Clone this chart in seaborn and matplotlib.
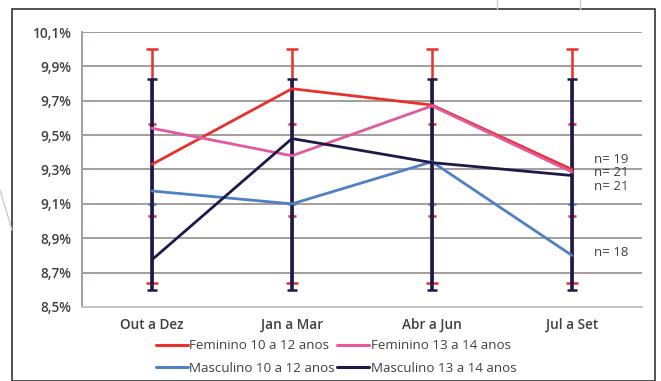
import matplotlib
matplotlib.use("Agg")
import matplotlib.pyplot as plt
import seaborn as sns
import pandas as pd
from matplotlib.ticker import FuncFormatter, FixedLocator
from matplotlib.lines import Line2D
from matplotlib.patches import Rectangle

categories = ["Out a Dez", "Jan a Mar", "Abr a Jun", "Jul a Set"]
series_names = ["Feminino 10 a 12 anos", "Feminino 13 a 14 anos",
                "Masculino 10 a 12 anos", "Masculino 13 a 14 anos"]
fem_10_12 = [9.33, 9.77, 9.675, 9.30]
fem_13_14 = [9.54, 9.38, 9.67, 9.285]
masc_10_12 = [9.175, 9.10, 9.345, 8.80]
masc_13_14 = [8.775, 9.48, 9.34, 9.265]
# error bar ranges (low, high) per series
err_fem_10_12 = (8.64, 10.0)
err_fem_13_14 = (9.03, 9.565)
err_masc_10_12 = (9.10, 9.34)
err_masc_13_14 = (8.60, 9.825)
n_labels = ["n= 19", "n= 21", "n= 21", "n= 18"]
n_label_y = [9.36, 9.28, 9.20, 8.82]
colors = ["#e8312b", "#e25a9e", "#5080c4", "#1c1a48"]

values = [fem_10_12, fem_13_14, masc_10_12, masc_13_14]
errs = [err_fem_10_12, err_fem_13_14, err_masc_10_12, err_masc_13_14]

rows = []
for name, vals in zip(series_names, values):
    for i, (c, v) in enumerate(zip(categories, vals)):
        rows.append({"periodo": c, "x": i, "serie": name, "valor": v})
df = pd.DataFrame(rows)

sns.set_style("white")
plt.rcParams["font.family"] = ["Open Sans", "DejaVu Sans"]

fig = plt.figure(figsize=(6.61, 3.81), dpi=100)
ax = fig.add_axes([82/661, 1-307/381, (642-82)/661, (307-32)/381])

ax.set_ylim(8.5, 10.1)
ax.set_xlim(-0.5, 3.5)
yt = [8.5, 8.7, 8.9, 9.1, 9.3, 9.5, 9.7, 9.9, 10.1]
ax.yaxis.set_major_locator(FixedLocator(yt))
ax.yaxis.set_major_formatter(FuncFormatter(lambda v, p: f"{v:.1f}%".replace(".", ",")))
ax.grid(axis="y", color="#a39d9b", linewidth=1.4)
ax.set_axisbelow(True)

# error bars
xs = list(range(len(categories)))
cap_w = [0.045, 0.03, 0.03, 0.035]
for k, ((lo, hi), col, lw) in enumerate(zip(errs, colors, [1.8, 1.4, 1.4, 2.6])):
    for x in xs:
        ax.vlines(x, lo, hi, color=col, linewidth=lw, zorder=4 if k == 3 else 3)
        caps = [lo] if k == 2 else [lo, hi]
        ax.hlines(caps, x - cap_w[k], x + cap_w[k], color=col if k != 1 else colors[0],
                  linewidth=1.8, zorder=4)

sns.lineplot(data=df, x="x", y="valor", hue="serie", palette=colors,
             hue_order=series_names, linewidth=2.0, ax=ax, legend=False, zorder=5,
             estimator=None, sort=False)

ax.set_xticks(xs)
ax.set_xticklabels(categories)
ax.set_xticks([-0.5, 0.5, 1.5, 2.5, 3.5], minor=True)
ax.tick_params(axis="x", which="major", length=0, pad=8, labelsize=9.8, labelcolor="#404040")
ax.tick_params(axis="x", which="minor", length=4, color="#a39d9b", width=1)
ax.tick_params(axis="y", length=4, color="#a39d9b", labelsize=9.8, labelcolor="#404040")
for lbl in ax.get_yticklabels() + ax.get_xticklabels():
    lbl.set_fontweight("semibold")
ax.set_xlabel("")
ax.set_ylabel("")
for s in ["top", "right"]:
    ax.spines[s].set_visible(False)
ax.spines["left"].set_color("#a39d9b")
ax.spines["bottom"].set_color("#c8c4c2")
ax.spines["left"].set_linewidth(1.4)
ax.spines["bottom"].set_linewidth(1.4)

for lab, y in zip(n_labels, n_label_y):
    ax.text(3.16, y, lab, fontsize=9.5, color="#404040", va="center", ha="left")

handles = [Line2D([0], [0], color=c, linewidth=2.2) for c in colors]
order = [0, 2, 1, 3]
fig.legend([handles[i] for i in order], [series_names[i] for i in order],
           ncol=2, frameon=False, loc="center", bbox_to_anchor=(336/661, 1-357/381),
           fontsize=9.6, handlelength=2.4, handletextpad=0.1, columnspacing=0.2,
           labelspacing=0.7, labelcolor="#404040", borderpad=0.2)

fig.patches.append(Rectangle((12/661, 0), (655-12)/661, 1-9/381, transform=fig.transFigure,
                             fill=False, edgecolor="#333333", linewidth=1.2))
fig.lines.append(Line2D([0, 12/661], [1-190/381, 1-230/381], transform=fig.transFigure,
                        color="#cccccc", linewidth=1))
fig.lines.append(Line2D([497/661, 497/661], [1, 1-9/381], transform=fig.transFigure,
                        color="#cccccc", linewidth=1))
fig.lines.append(Line2D([580/661, 580/661], [1, 1-9/381], transform=fig.transFigure,
                        color="#cccccc", linewidth=1))

fig.savefig("out.png", dpi=100)
